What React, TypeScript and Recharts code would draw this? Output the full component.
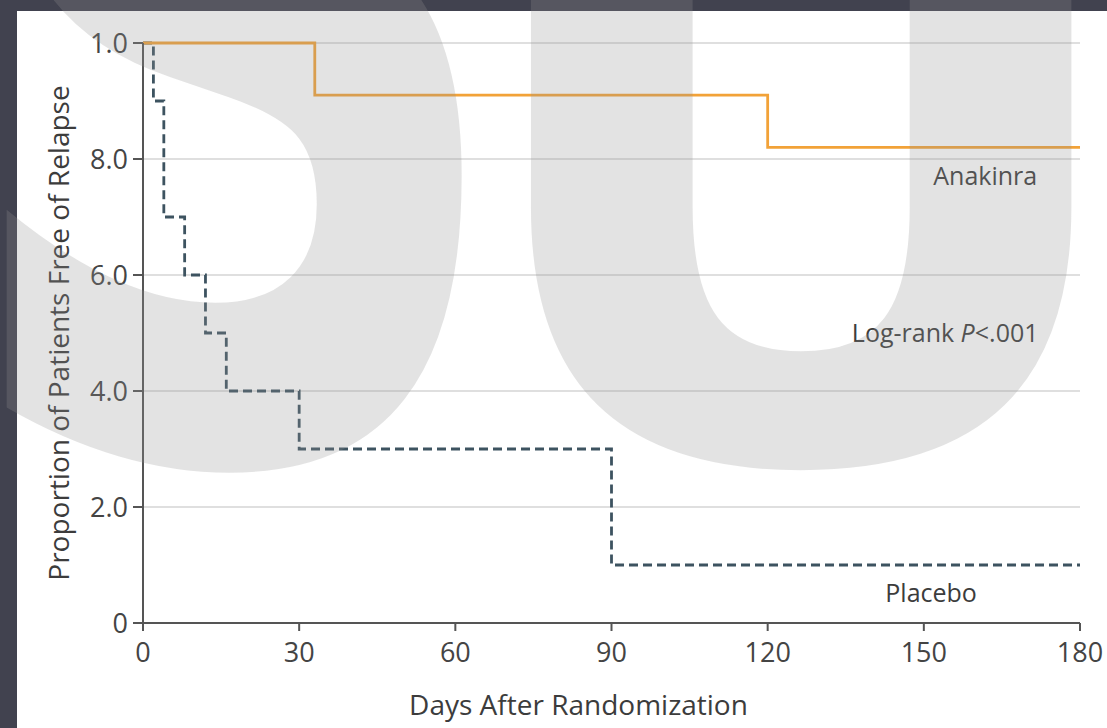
import { LineChart, Line, XAxis, YAxis, CartesianGrid, ReferenceDot } from 'recharts'

// Kaplan-Meier style steps (y drawn on a 0-10 scale)
const dayTicks = [0, 30, 60, 90, 120, 150, 180]
const proportionTicks = [0, 2, 4, 6, 8, 10]
const proportionTickLabels = ['0', '2.0', '4.0', '6.0', '8.0', '1.0']

const anakinraDays = [0, 33, 120, 180]
const anakinraValues = [10, 9.1, 8.2, 8.2]

const placeboDays = [0, 2, 4, 8, 12, 16, 30, 90, 180]
const placeboValues = [10, 9, 7, 6, 5, 4, 3, 1, 1]

const font = '"Open Sans", "Noto Sans", sans-serif'
const textColor = '#3c3c3c'

const anakinra = anakinraDays.map((day, i) => ({ day, value: anakinraValues[i] }))
const placebo = placeboDays.map((day, i) => ({ day, value: placeboValues[i] }))

function Annotation({ cx, cy, children }: { cx?: number; cy?: number; children: React.ReactNode }) {
  return (
    <text x={cx} y={cy} dy="0.35em" textAnchor="middle" fontSize={25} fontFamily={font} fill={textColor}>
      {children}
    </text>
  )
}

export default function App() {
  return (
    <div style={{ position: 'absolute', left: 0, top: 0, width: 1107, height: 728, background: '#41424f', overflow: 'hidden' }}>
      <div style={{ position: 'absolute', left: 17, top: 11, width: 1090, height: 717, background: '#ffffff' }}>
        <LineChart width={1090} height={717} margin={{ top: 32, right: 27, left: 0, bottom: 10 }}>
          <CartesianGrid vertical={false} stroke="#d4d4d4" strokeWidth={1.5} />
          <XAxis
            type="number"
            dataKey="day"
            domain={[0, 180]}
            ticks={dayTicks}
            height={95}
            tickSize={8}
            tickMargin={12}
            tick={{ fontSize: 27, fill: '#444', fontFamily: font }}
            axisLine={{ stroke: '#555', strokeWidth: 2 }}
            tickLine={{ stroke: '#555', strokeWidth: 2 }}
            label={{
              content: ({ viewBox }: any) => (
                <text
                  x={viewBox.x + viewBox.width / 2 - 33}
                  y={viewBox.y + viewBox.height - 3}
                  textAnchor="middle"
                  fontSize={28}
                  fontFamily={font}
                  fill={textColor}
                >
                  Days After Randomization
                </text>
              ),
            }}
          />
          <YAxis
            type="number"
            domain={[0, 10]}
            ticks={proportionTicks}
            tickFormatter={(v: number) => proportionTickLabels[proportionTicks.indexOf(v)]}
            width={126}
            tickSize={10}
            tickMargin={5}
            tick={{ fontSize: 27, fill: '#444', fontFamily: font }}
            axisLine={{ stroke: '#555', strokeWidth: 2 }}
            tickLine={{ stroke: '#555', strokeWidth: 2 }}
            label={{
              content: ({ viewBox }: any) => {
                const x = viewBox.x + 52
                const y = viewBox.y + viewBox.height / 2
                return (
                  <text
                    x={x}
                    y={y}
                    transform={`rotate(-90 ${x} ${y})`}
                    textAnchor="middle"
                    fontSize={28}
                    fontFamily={font}
                    fill={textColor}
                  >
                    Proportion of Patients Free of Relapse
                  </text>
                )
              },
            }}
          />
          <Line
            data={placebo}
            dataKey="value"
            type="stepAfter"
            stroke="#3d5360"
            strokeWidth={2.8}
            strokeDasharray="9 5"
            dot={false}
            isAnimationActive={false}
          />
          <Line
            data={anakinra}
            dataKey="value"
            type="stepAfter"
            stroke="#f2a238"
            strokeWidth={2.8}
            dot={false}
            isAnimationActive={false}
          />
          <ReferenceDot x={161.8} y={7.7} r={0} shape={(p: any) => <Annotation cx={p.cx} cy={p.cy}>Anakinra</Annotation>} />
          <ReferenceDot
            x={154.1}
            y={5.0}
            r={0}
            shape={(p: any) => (
              <Annotation cx={p.cx} cy={p.cy}>
                Log-rank <tspan fontStyle="italic">P</tspan>&lt;.001
              </Annotation>
            )}
          />
          <ReferenceDot x={151.4} y={0.52} r={0} shape={(p: any) => <Annotation cx={p.cx} cy={p.cy}>Placebo</Annotation>} />
        </LineChart>
      </div>
      {/* watermark laid over the figure */}
      <svg width={1107} height={728} style={{ position: 'absolute', left: 0, top: 0, pointerEvents: 'none' }}>
        <g fontSize={860} fontWeight="bold" fontFamily='"DejaVu Sans", sans-serif' fill="#929292" fillOpacity={0.26}>
          <text x={-60} y={455} transform="translate(0 455) scale(0.93 1.45) translate(0 -455)">S</text>
          <text x={452} y={458}>U</text>
        </g>
      </svg>
    </div>
  )
}
